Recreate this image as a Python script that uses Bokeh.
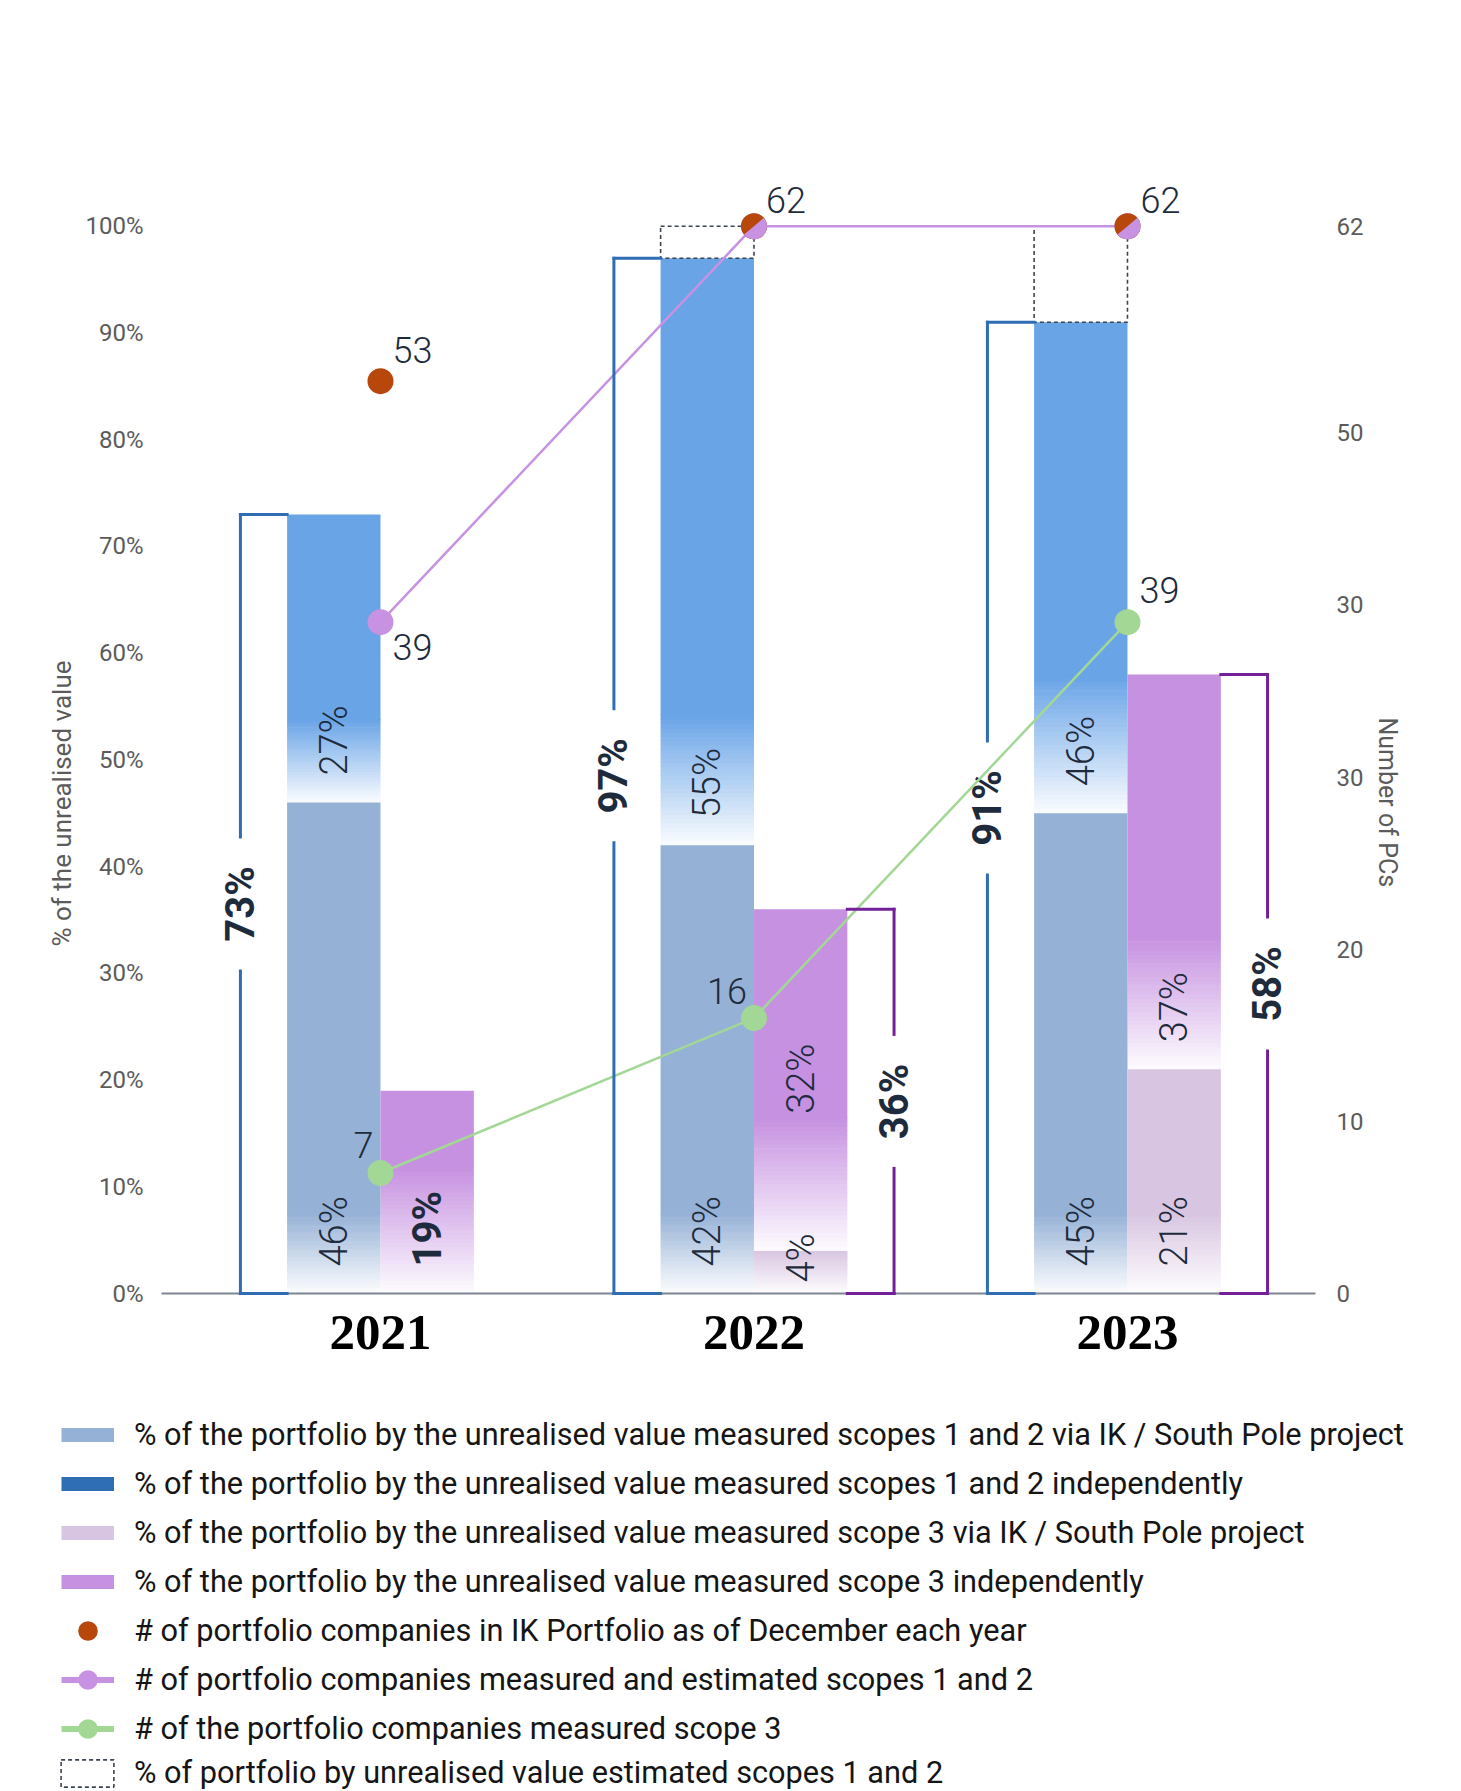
import math
from bokeh.plotting import figure
from bokeh.layouts import column
from bokeh.models import (Range1d, LinearAxis, FixedTicker, PrintfTickFormatter,
                          Legend, LegendItem, Title, ColumnDataSource)
from bokeh.core.properties import value
from bokeh.embed import file_html
from bokeh.resources import INLINE

# ---------------- data ----------------
years = ["2021", "2022", "2023"]
s12_ik = [46, 42, 45]          # % scopes 1&2 via IK / South Pole project
s12_ind = [27, 55, 46]         # % scopes 1&2 independently
s12_est = [0, 3, 9]            # % estimated scopes 1&2
s3_ik = [0, 4, 21]             # % scope 3 via IK / South Pole project
s3_ind = [19, 32, 37]          # % scope 3 independently
pcs_portfolio = [53, 62, 62]   # # portfolio companies in IK portfolio
pcs_s12 = [39, 62, 62]         # # PCs measured & estimated scopes 1&2
pcs_s3 = [7, 16, 39]           # # PCs measured scope 3
pct_ticks = [0, 10, 20, 30, 40, 50, 60, 70, 80, 90, 100]
pcs_ticks = [0, 10, 20, 30, 40, 50, 62]
pcs_tick_labels = ["0", "10", "20", "30", "30", "50", "62"]
legend_labels = [
    "% of the portfolio by the unrealised value measured scopes 1 and 2 via IK / South Pole project",
    "% of the portfolio by the unrealised value measured scopes 1 and 2 independently",
    "% of the portfolio by the unrealised value measured scope 3 via IK / South Pole project",
    "% of the portfolio by the unrealised value measured scope 3 independently",
    "# of portfolio companies in IK Portfolio as of December each year",
    "# of portfolio companies measured and estimated scopes 1 and 2",
    "# of the portfolio companies measured scope 3",
    "% of portfolio by unrealised value estimated scopes 1 and 2",
]
left_title = "% of the unrealised value"
right_title = "Number of PCs"

# ---------------- style ----------------
W = 1461
H_MAIN = 1395
H_LEG = 396
FRAME_LEFT, FRAME_RIGHT = 161, 1315
FRAME_TOP, FRAME_BOTTOM = 119, 1293
Y_MAX = 110.0
PCS_MAX = Y_MAX * 0.62
PX = (FRAME_BOTTOM - FRAME_TOP) / Y_MAX
X_START, X_END = -0.5863, 2.5034
BAR_W = 0.25
BRACKET_DX = 0.375
GAP = 67 / PX
FADE_S12_IND = [83, 130, 136]
FADE_S3_IND = [126, 133, 132]
FADE_IK = 80

C_S12_IK = "#95b1d6"
C_S12_IND = "#69a4e7"
C_S12_IND_LEG = "#2f6db5"
C_S3_IK = "#d8c5e1"
C_S3_IND = "#c691e1"
C_ORANGE = "#b8470b"
C_PURPLE = "#c792e1"
C_GREEN = "#a3d795"
C_BR_BLUE = "#2f6db5"
C_BR_PURPLE = "#74209a"
C_TEXT = "#1e2b3c"
C_TICK = "#5b5b5b"
C_DASH = "#3b4553"

LIGHT = "Roboto Light"
REG = "Roboto"

p = figure(width=W, height=H_MAIN, output_backend="svg", toolbar_location=None,
           x_range=Range1d(X_START, X_END), y_range=Range1d(0, Y_MAX),
           min_border_left=FRAME_LEFT, min_border_right=W - FRAME_RIGHT,
           min_border_top=FRAME_TOP, min_border_bottom=H_MAIN - FRAME_BOTTOM,
           background_fill_color="white", border_fill_color="white")
p.frame_align = False
p.outline_line_color = None
p.grid.grid_line_color = None
p.extra_y_ranges = {"pcs": Range1d(0, PCS_MAX)}

# axes
p.xaxis.ticker = FixedTicker(ticks=list(range(len(years))))
p.xaxis.major_label_overrides = {i: y for i, y in enumerate(years)}
p.xaxis.major_label_text_font = "Liberation Serif"
p.xaxis.major_label_text_font_style = "bold"
p.xaxis.major_label_text_font_size = "51px"
p.xaxis.major_label_text_color = "#000000"
p.xaxis.major_label_standoff = 22
p.xaxis.major_tick_out = 0
p.xaxis.major_tick_line_color = None
p.xaxis.minor_tick_line_color = None
p.xaxis.axis_line_color = "#7d8691"
p.xaxis.axis_line_width = 2

p.yaxis.ticker = FixedTicker(ticks=pct_ticks)
p.yaxis.formatter = PrintfTickFormatter(format="%d%%")
p.yaxis.major_label_text_font = REG
p.yaxis.major_label_text_font_size = "24px"
p.yaxis.major_label_text_color = C_TICK
p.yaxis.major_label_standoff = 18
p.yaxis.major_tick_out = 0
p.yaxis.major_tick_line_color = None
p.yaxis.minor_tick_line_color = None
p.yaxis.axis_line_color = None

raxis = LinearAxis(y_range_name="pcs", ticker=FixedTicker(ticks=pcs_ticks),
                   major_label_overrides={t: l for t, l in zip(pcs_ticks, pcs_tick_labels)})
raxis.major_label_text_font = REG
raxis.major_label_text_font_size = "24px"
raxis.major_label_text_color = C_TICK
raxis.major_label_standoff = 21
raxis.major_tick_out = 0
raxis.major_tick_line_color = None
raxis.minor_tick_line_color = None
raxis.axis_line_color = None
p.add_layout(raxis, "right")

# axis titles (offset so they sit where the reference has them)
p.add_layout(Title(text=left_title, align="left", offset=347, vertical_align="middle",
                   text_font=REG, text_font_size="26px", text_font_style="normal",
                   text_color=C_TICK), "left")
p.add_layout(Title(text=right_title, align="left", offset=598, vertical_align="middle",
                   text_font=REG, text_font_size="25px", text_font_style="normal",
                   text_color=C_TICK), "right")


def mix(c, t):
    r, g, b = int(c[1:3], 16), int(c[3:5], 16), int(c[5:7], 16)
    return "#%02x%02x%02x" % (round(r + (255 - r) * t), round(g + (255 - g) * t), round(b + (255 - b) * t))


solid = dict(left=[], right=[], bottom=[], top=[], color=[])
strips = dict(left=[], right=[], bottom=[], top=[], color=[])


def add_segment(xl, xr, b, t, color, fade_px):
    if t <= b:
        return
    fade = min(fade_px / PX, t - b)
    if t - b - fade > 0:
        for k, v in zip(("left", "right", "bottom", "top", "color"), (xl, xr, b + fade - 0.05, t, color)):
            solid[k].append(v)
    n = 30
    for k in range(n):
        y0 = b + fade * k / n
        y1 = min(b + fade * (k + 1) / n + 0.06, t)
        s = (k + 0.5) / n
        for kk, v in zip(("left", "right", "bottom", "top", "color"),
                         (xl, xr, y0, y1, mix(color, 0.97 * (1 - s)))):
            strips[kk].append(v)


for i in range(len(years)):
    add_segment(i - BAR_W, i, 0, s12_ik[i], C_S12_IK, FADE_IK)
    add_segment(i - BAR_W, i, s12_ik[i], s12_ik[i] + s12_ind[i], C_S12_IND, FADE_S12_IND[i])
    add_segment(i, i + BAR_W, 0, s3_ik[i], C_S3_IK, FADE_IK)
    add_segment(i, i + BAR_W, s3_ik[i], s3_ik[i] + s3_ind[i], C_S3_IND, FADE_S3_IND[i])

p.quad(left="left", right="right", bottom="bottom", top="top", fill_color="color",
       line_color=None, source=ColumnDataSource(strips))
p.quad(left="left", right="right", bottom="bottom", top="top", fill_color="color",
       line_color=None, source=ColumnDataSource(solid))

# estimated (dashed) boxes
est = dict(left=[], right=[], bottom=[], top=[])
for i in range(len(years)):
    if s12_est[i] > 0:
        tot = s12_ik[i] + s12_ind[i]
        est["left"].append(i - BAR_W); est["right"].append(i)
        est["bottom"].append(tot); est["top"].append(tot + s12_est[i])
p.quad(left="left", right="right", bottom="bottom", top="top", fill_color=None,
       line_color=C_DASH, line_width=1.6, line_dash="4 3", source=ColumnDataSource(est))


# brackets
def bracket(xb, xe, total, color):
    xs0 = [xb, xb, xb, xb]
    ys0 = [total, 0, 0, total / 2 + GAP]
    xs1 = [xe, xe, xb, xb]
    ys1 = [total, 0, total / 2 - GAP, total]
    return dict(x0=xs0, y0=ys0, x1=xs1, y1=ys1, c=[color] * 4)


br = dict(x0=[], y0=[], x1=[], y1=[], c=[])
tot_lbl = dict(x=[], y=[], text=[])
for i in range(len(years)):
    t12 = s12_ik[i] + s12_ind[i]
    d = bracket(i - BRACKET_DX, i - BAR_W, t12, C_BR_BLUE)
    for k in br:
        br[k] += d[k]
    tot_lbl["x"].append(i - BRACKET_DX); tot_lbl["y"].append(t12 / 2); tot_lbl["text"].append(f"{t12}%")
    if s3_ik[i] > 0:
        t3 = s3_ik[i] + s3_ind[i]
        d = bracket(i + BRACKET_DX, i + BAR_W, t3, C_BR_PURPLE)
        for k in br:
            br[k] += d[k]
        tot_lbl["x"].append(i + BRACKET_DX); tot_lbl["y"].append(t3 / 2); tot_lbl["text"].append(f"{t3}%")
p.segment(x0="x0", y0="y0", x1="x1", y1="y1", line_color="c", line_width=3,
          line_cap="square", source=ColumnDataSource(br), level="overlay")
p.text(x="x", y="y", text="text", source=ColumnDataSource(tot_lbl), angle=math.pi / 2,
       text_align="center", text_baseline="middle", text_font=value(REG),
       text_font_style="bold", text_font_size="40px", text_color=C_TEXT)

# in-bar labels
lift_override = {(1, "s3_ind"): 137, (1, "s3_ik"): 11}
lab = dict(x=[], y=[], text=[], lift=[])
lab_b = dict(x=[], y=[], text=[], lift=[])
for i in range(len(years)):
    segs = [("s12_ik", i - BAR_W / 2, 0, s12_ik[i]),
            ("s12_ind", i - BAR_W / 2, s12_ik[i], s12_ind[i]),
            ("s3_ik", i + BAR_W / 2, 0, s3_ik[i]),
            ("s3_ind", i + BAR_W / 2, s3_ik[i], s3_ind[i])]
    for name, xc, b, v in segs:
        if v <= 0:
            continue
        target = lab
        if name == "s3_ind" and s3_ik[i] == 0:
            target = lab_b
        target["x"].append(xc); target["y"].append(b); target["text"].append(f"{v}%")
        target["lift"].append(-lift_override.get((i, name), 27))
p.text(x="x", y="y", text="text", y_offset="lift", source=ColumnDataSource(lab), angle=math.pi / 2,
       text_align="left", text_baseline="middle", text_font=value(LIGHT),
       text_font_size="38px", text_color=C_TEXT)
p.text(x="x", y="y", text="text", y_offset="lift", source=ColumnDataSource(lab_b), angle=math.pi / 2,
       text_align="left", text_baseline="middle", text_font=value(REG), text_font_style="bold",
       text_font_size="40px", text_color=C_TEXT)

# lines and points
xs = list(range(len(years)))
p.line(xs, pcs_s12, y_range_name="pcs", line_color=C_PURPLE, line_width=2.5)
p.line(xs, pcs_s3, y_range_name="pcs", line_color=C_GREEN, line_width=2.5)
p.scatter(xs, pcs_s12, y_range_name="pcs", size=26, fill_color=C_PURPLE, line_color=None)
p.scatter(xs, pcs_s3, y_range_name="pcs", size=26, fill_color=C_GREEN, line_color=None)
p.scatter(xs, pcs_portfolio, y_range_name="pcs", size=26, fill_color=C_ORANGE, line_color=None)
same = [i for i in xs if pcs_s12[i] == pcs_portfolio[i]]
p.wedge(x=same, y=[pcs_s12[i] for i in same], radius=13, radius_units="screen",
        start_angle=-140, end_angle=40, start_angle_units="deg", end_angle_units="deg",
        y_range_name="pcs", fill_color=C_PURPLE, line_color=None)

# point labels
org_off = [(12, -31), (12, -26), (13, -26)]
pur_off = [(12, 25), (12, 25), (12, 25)]
grn_off = [(-7, -28, "right"), (-7, -27, "right"), (12, -32, "left")]
pl = dict(x=[], y=[], text=[], xo=[], yo=[], al=[])
for i in xs:
    pl["x"].append(i); pl["y"].append(pcs_portfolio[i]); pl["text"].append(str(pcs_portfolio[i]))
    pl["xo"].append(org_off[i][0]); pl["yo"].append(org_off[i][1]); pl["al"].append("left")
    if pcs_s12[i] != pcs_portfolio[i]:
        pl["x"].append(i); pl["y"].append(pcs_s12[i]); pl["text"].append(str(pcs_s12[i]))
        pl["xo"].append(pur_off[i][0]); pl["yo"].append(pur_off[i][1]); pl["al"].append("left")
    pl["x"].append(i); pl["y"].append(pcs_s3[i]); pl["text"].append(str(pcs_s3[i]))
    pl["xo"].append(grn_off[i][0]); pl["yo"].append(grn_off[i][1]); pl["al"].append(grn_off[i][2])
p.text(x="x", y="y", text="text", x_offset="xo", y_offset="yo", text_align="al",
       y_range_name="pcs", source=ColumnDataSource(pl), text_baseline="middle",
       text_font=value(LIGHT), text_font_size="36px", text_color=C_TEXT)

# ---------------- legend panel ----------------
q = figure(width=W, height=H_LEG, output_backend="svg", toolbar_location=None,
           x_range=Range1d(0, 1), y_range=Range1d(0, 1), x_axis_type=None, y_axis_type=None,
           min_border=0, background_fill_color="white", border_fill_color="white")
q.frame_align = False
q.outline_line_color = None
q.grid.grid_line_color = None

# legend swatch renderers: points outside the visible range
OFF = [-5, -4]
sw_ik12 = q.line(x=OFF, y=OFF, line_color=C_S12_IK, line_width=14)
sw_ind12 = q.line(x=OFF, y=OFF, line_color=C_S12_IND_LEG, line_width=14)
sw_ik3 = q.line(x=OFF, y=OFF, line_color=C_S3_IK, line_width=14)
sw_ind3 = q.line(x=OFF, y=OFF, line_color=C_S3_IND, line_width=14)
sw_org = q.scatter(x=OFF, y=OFF, fill_color=C_ORANGE, line_color=None)
sw_pur_l = q.line(x=OFF, y=OFF, line_color=C_PURPLE, line_width=6)
sw_pur_m = q.scatter(x=OFF, y=OFF, fill_color=C_PURPLE, line_color=None)
sw_grn_l = q.line(x=OFF, y=OFF, line_color=C_GREEN, line_width=6)
sw_grn_m = q.scatter(x=OFF, y=OFF, fill_color=C_GREEN, line_color=None)
sw_est = q.quad(left=[-5], right=[-4], bottom=[-5], top=[-4], fill_color=None, line_color=C_DASH,
                line_width=1.6, line_dash="4 3")

leg_common = dict(padding=0, margin=0, spacing=0, border_line_color=None, background_fill_alpha=0,
                  label_text_font=REG, label_text_font_size="30.7px", label_text_color="#151515")
LEG_TOP = 15
leg1 = Legend(items=[
    LegendItem(label=legend_labels[0], renderers=[sw_ik12]),
    LegendItem(label=legend_labels[1], renderers=[sw_ind12]),
    LegendItem(label=legend_labels[2], renderers=[sw_ik3]),
    LegendItem(label=legend_labels[3], renderers=[sw_ind3]),
    LegendItem(label=legend_labels[4], renderers=[sw_org]),
    LegendItem(label=legend_labels[5], renderers=[sw_pur_l, sw_pur_m]),
    LegendItem(label=legend_labels[6], renderers=[sw_grn_l, sw_grn_m]),
], glyph_width=53, glyph_height=49, label_height=49, label_standoff=20,
    location=(61, H_LEG - 7 * 49 - LEG_TOP), **leg_common)
leg2 = Legend(items=[LegendItem(label=legend_labels[7], renderers=[sw_est])],
              glyph_width=66, glyph_height=34, label_height=34, label_standoff=14,
              location=(54, H_LEG - 34 - (LEG_TOP + 7 * 49 + 3)), **leg_common)
q.add_layout(leg1)
q.add_layout(leg2)

open("out.html", "w").write(file_html(column(p, q, spacing=0), INLINE))
